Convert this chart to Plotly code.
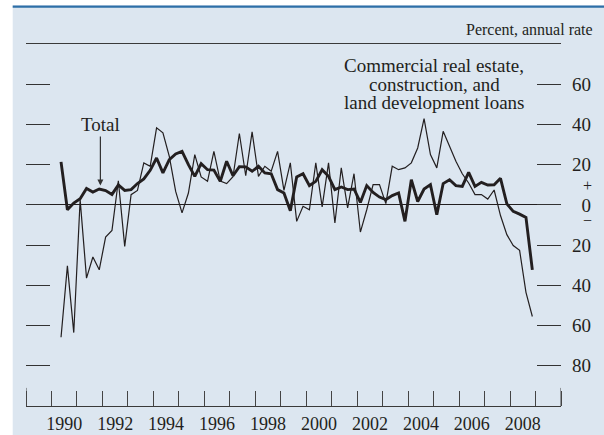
import plotly.graph_objects as go

# ---- data: quarterly, 1990Q2 .. 2008Q4 ----
start_year, start_q = 1990, 2
n_quarters = 75
quarters = []
y, q = start_year, start_q
for _ in range(n_quarters):
    quarters.append(f"{y}Q{q}")
    q += 1
    if q > 4:
        q = 1
        y += 1

total = [21.4, -2.4, 0.9, 3.1, 8.2, 6.4, 7.9, 7.1, 5.2, 9.9,
         7.2, 7.6, 10.6, 12.9, 17.2, 23.3, 15.9, 22.5, 25.3, 26.6,
         20.0, 14.2, 20.5, 17.5, 17.3, 11.7, 21.7, 14.5, 19.0, 18.9,
         16.7, 19.2, 15.9, 15.5, 7.6, 5.9, -2.9, 13.9, 15.5, 9.6,
         11.7, 17.5, 14.2, 7.6, 8.9, 7.6, 7.9, 1.2, 9.6, 6.2,
         3.9, 2.6, 4.6, 5.9, -8.2, 12.5, 1.7, 7.9, 10.1, -4.9,
         10.6, 12.5, 9.6, 9.2, 16.2, 9.2, 11.2, 9.9, 10.0, 13.2,
         0.5, -3.2, -4.6, -6.2, -32.3]

cre = [-65.8, -30.3, -63.5, 2.6, -36.4, -25.9, -32.3, -16.0, -12.7, 12.0,
       -20.6, 5.1, 7.2, 20.9, 19.2, 38.3, 35.8, 24.1, 6.7, -4.0,
       5.9, 25.0, 13.9, 11.7, 26.6, 11.8, 10.6, 14.0, 35.5, 14.5,
       36.3, 14.2, 19.2, 16.7, 26.6, 7.2, 20.9, -8.2, -0.7, -2.4,
       20.9, -1.0, 20.9, -9.0, 18.4, -1.5, 15.5, -13.5, -2.4, 10.1,
       10.1, 0.6, 19.2, 17.5, 18.4, 20.9, 28.3, 42.9, 25.0, 18.4,
       36.6, 29.1, 21.7, 15.5, 10.9, 5.1, 5.1, 2.9, 7.4, -5.3,
       -14.8, -20.2, -22.6, -43.5, -55.5]

year_labels = [str(yr) for yr in range(1990, 2009, 2)]
y_tick_vals = [-80, -60, -40, -20, 0, 20, 40, 60]
y_tick_text = ["80", "60", "40", "20", "\u00a0\u00a00", "20", "40", "60"]

# x position: middle of each quarter
xq = [int(s[:4]) + (int(s[-1]) - 0.5) / 4 for s in quarters]

INK = "#231f20"
BG = "#dce6f0"
FONT = "Liberation Serif"

fig = go.Figure()
fig.add_trace(go.Scatter(x=xq, y=cre, mode="lines",
                         line=dict(color=INK, width=1.2), yaxis="y",
                         showlegend=False, hoverinfo="skip"))
fig.add_trace(go.Scatter(x=xq, y=total, mode="lines",
                         line=dict(color=INK, width=2.9), yaxis="y2",
                         showlegend=False, hoverinfo="skip"))

W, H = 604, 435
L, R, T, B = 26, 43, 44, 29
pw, ph = W - L - R, H - T - B


def px(xp):
    return (xp - L) / pw


def py(yp):
    return (H - B - yp) / ph


shapes = [
    # white margins outside the tinted panel
    dict(type="rect", xref="paper", yref="paper", x0=px(0), x1=px(12.7),
         y0=py(H), y1=py(0), fillcolor="white", line=dict(width=0)),
    dict(type="rect", xref="paper", yref="paper", x0=px(0), x1=px(W),
         y0=py(5.5), y1=py(0), fillcolor="white", line=dict(width=0)),
    # blue rule at the top of the panel
    dict(type="rect", xref="paper", yref="paper", x0=px(12.7), x1=px(W),
         y0=py(7.8), y1=py(5.5), fillcolor="#2e6fa7", line=dict(width=0)),
    # taller end ticks
    dict(type="line", xref="x", yref="y", x0=1989, x1=1989, y0=-100, y1=-91,
         line=dict(color="#444", width=1)),
    dict(type="line", xref="x", yref="y", x0=2010, x1=2010, y0=-100, y1=-91,
         line=dict(color="#444", width=1)),
]

annotations = [
    dict(text="Percent, annual rate", xref="paper", yref="paper",
         x=px(595), y=py(29), xanchor="right", yanchor="middle",
         showarrow=False, font=dict(family=FONT, size=16, color=INK)),
    dict(text="Commercial real estate,", xref="paper", yref="paper",
         x=px(434), y=py(65), xanchor="center", yanchor="middle",
         showarrow=False, borderpad=0,
         font=dict(family=FONT, size=19, color=INK)),
    dict(text="construction, and", xref="paper", yref="paper",
         x=px(434), y=py(84), xanchor="center", yanchor="middle",
         showarrow=False, borderpad=0,
         font=dict(family=FONT, size=19, color=INK)),
    dict(text="land development loans", xref="paper", yref="paper",
         x=px(434), y=py(102.5), xanchor="center", yanchor="middle",
         showarrow=False, borderpad=0,
         font=dict(family=FONT, size=19, color=INK)),
    dict(text="Total", x=1991.92, y=9.6, xref="x", yref="y",
         showarrow=True, ax=0, ay=-61, axref="pixel", ayref="pixel",
         arrowhead=2, arrowsize=1, arrowwidth=1.2, arrowcolor="#333",
         standoff=0, font=dict(family=FONT, size=19, color=INK)),
    dict(text="+", xref="paper", yref="y", x=px(587.3), y=9.8,
         xanchor="center", yanchor="middle", showarrow=False, borderpad=0,
         font=dict(family=FONT, size=16, color=INK)),
    dict(text="\u2212", xref="paper", yref="y", x=px(587.3), y=-7.9,
         xanchor="center", yanchor="middle", showarrow=False, borderpad=0,
         font=dict(family=FONT, size=16, color=INK)),
]

fig.update_layout(
    template="none",
    width=W, height=H, autosize=False,
    margin=dict(l=L, r=R, t=T, b=B, pad=0, autoexpand=False),
    paper_bgcolor=BG, plot_bgcolor=BG,
    font=dict(family=FONT, color=INK),
    xaxis=dict(range=[1989, 2010], showgrid=False, zeroline=False,
               automargin=False,
               showline=True, mirror=True, linecolor="#3a3a3a", linewidth=1,
               tickmode="array",
               tickvals=[int(s) + 0.5 for s in year_labels],
               ticktext=year_labels, ticks="",
               tickfont=dict(family=FONT, size=18, color=INK),
               ticklabelstandoff=1,
               minor=dict(tickmode="linear", tick0=1989, dtick=1,
                          ticks="inside", ticklen=15, tickwidth=1,
                          tickcolor="#444", showgrid=False)),
    yaxis=dict(range=[-100, 80], showgrid=False, showline=False,
               automargin=False,
               zeroline=True, zerolinecolor=INK, zerolinewidth=1,
               tickmode="array", tickvals=y_tick_vals, ticks="inside",
               ticklen=24, tickwidth=1, tickcolor="#333",
               showticklabels=False),
    yaxis2=dict(range=[-100, 80], overlaying="y", side="right",
                automargin=False,
                showgrid=False, showline=False, zeroline=False,
                tickmode="array", tickvals=y_tick_vals, ticktext=y_tick_text,
                ticks="inside", ticklen=24, tickwidth=1, tickcolor="#333",
                tickfont=dict(family=FONT, size=19, color=INK),
                ticklabelstandoff=10),
    shapes=shapes,
    annotations=annotations,
)

fig.write_html("out.html",
               config={"displayModeBar": False, "responsive": False},
               post_script="document.body.style.margin='0';"
                           "document.body.style.overflow='hidden';")
